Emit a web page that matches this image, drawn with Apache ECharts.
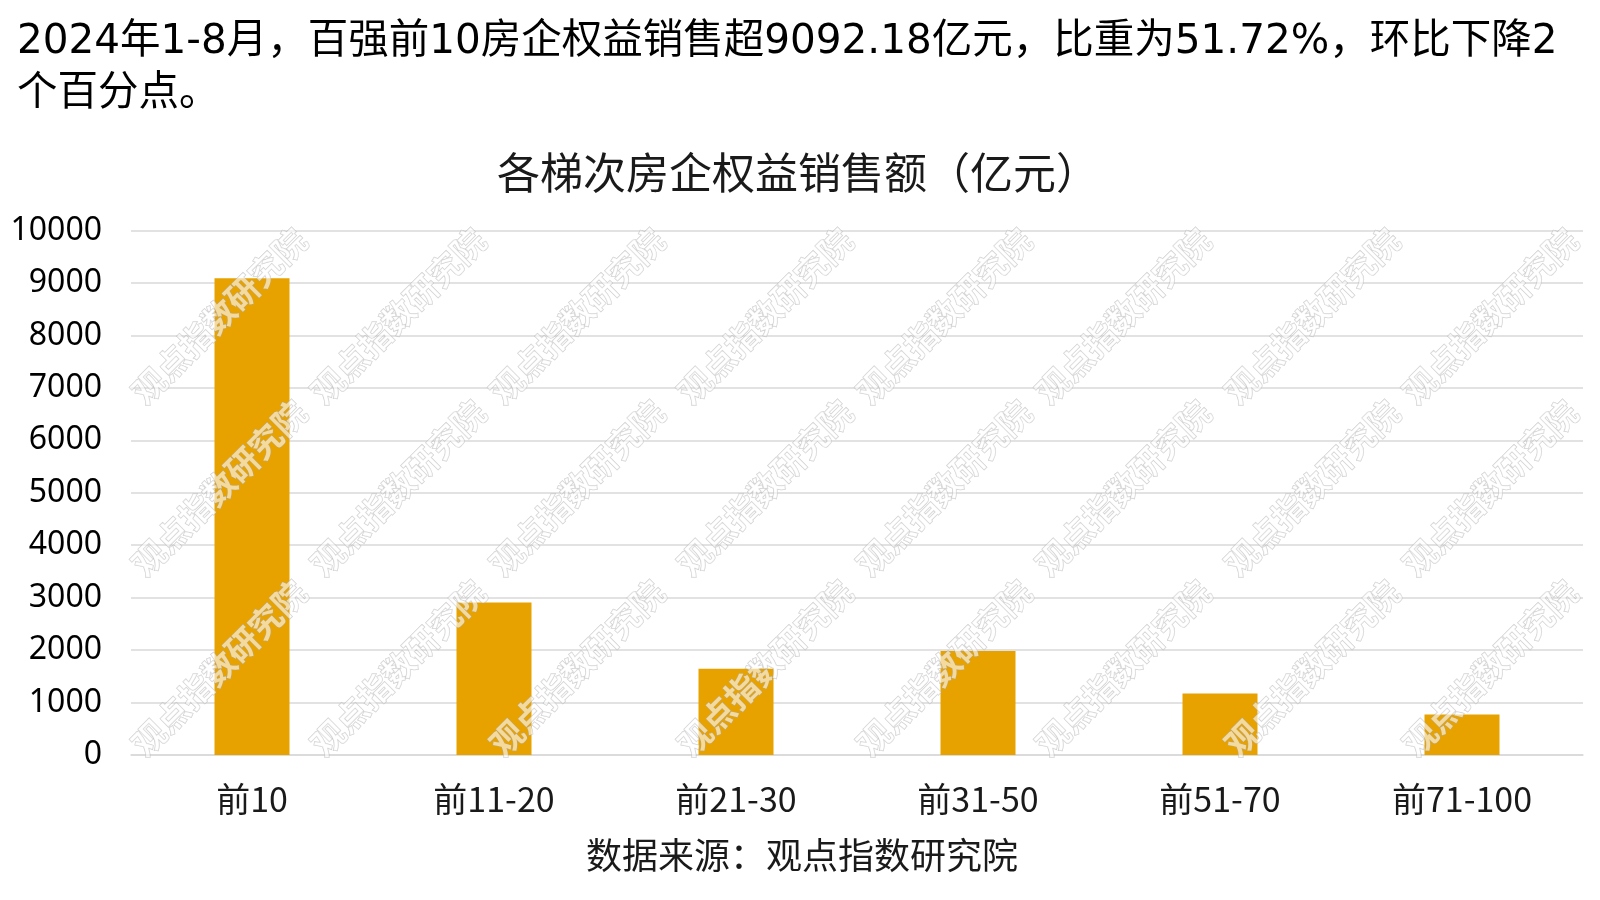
<!DOCTYPE html>
<html>
<head>
<meta charset="utf-8">
<script src="https://cdn.jsdelivr.net/npm/echarts@6/dist/echarts.min.js"></script>
<style>html,body{margin:0;padding:0;background:#fff;}#c{width:1600px;height:900px;}</style>
</head>
<body>
<div id="c"></div>
<script>
const headline = ['2024年1-8月，百强前10房企权益销售超9092.18亿元，比重为51.72%，环比下降2', '个百分点。'];
const chartTitle = '各梯次房企权益销售额（亿元）';
const sourceNote = '数据来源：观点指数研究院';
const categories = ['前10', '前11-20', '前21-30', '前31-50', '前51-70', '前71-100'];
const salesValues = [9092.18, 2906, 1644, 1981, 1172, 771];
const watermarkText = '观点指数研究院';

const FONT = '"Noto Sans CJK SC", "Noto Sans", sans-serif';
const HEAD_FONT = '"DejaVu Sans", "Noto Sans CJK SC", sans-serif';
const chart = echarts.init(document.getElementById('c'));

// watermark layout (decorative)
const wmCols = [219, 398, 577, 765, 944, 1123, 1312, 1490];
const wmRows = [316, 488, 668];
const graphics = [];
wmRows.forEach(y => wmCols.forEach(x => {
  graphics.push({
    type: 'text', x: x, y: y, rotation: Math.PI / 4, z: 100,
    style: {
      text: watermarkText, font: 'bold 33px ' + FONT,
      fill: 'rgba(255,255,255,0.6)', stroke: 'rgba(170,170,170,0.6)', lineWidth: 1,
      shadowColor: 'rgba(0,0,0,0.3)', shadowBlur: 3, shadowOffsetX: 2, shadowOffsetY: 2,
      align: 'center', verticalAlign: 'middle'
    }
  });
}));

chart.setOption({
  backgroundColor: '#fff',
  animation: false,
  title: [
    { text: headline.join('\n'), left: 12, top: 11,
      textStyle: { fontFamily: HEAD_FONT, fontSize: 40.5, fontWeight: 'normal', color: '#000', lineHeight: 52 } },
    { text: chartTitle, left: 793, textAlign: 'center', top: 146,
      textStyle: { fontFamily: FONT, fontSize: 43, fontWeight: 'normal', color: '#1a1a1a' } },
    { text: sourceNote, left: 797, textAlign: 'center', top: 832,
      textStyle: { fontFamily: FONT, fontSize: 36, fontWeight: 'normal', color: '#1a1a1a' } }
  ],
  grid: { left: 131, right: 17, top: 230.6, bottom: 145, containLabel: false },
  xAxis: {
    type: 'category', data: categories,
    axisLine: { lineStyle: { color: '#d9d9d9', width: 1.5 } },
    axisTick: { show: false },
    axisLabel: { margin: 27, fontFamily: FONT, fontSize: 34, color: '#1a1a1a' }
  },
  yAxis: {
    type: 'value', min: 0, max: 10000, interval: 1000,
    axisLine: { show: false }, axisTick: { show: false },
    splitLine: { lineStyle: { color: '#d9d9d9', width: 1.5 } },
    axisLabel: { margin: 29, fontFamily: '"Noto Sans", sans-serif', fontSize: 32, color: '#000',
      padding: [12, 0, 0, 0], formatter: v => String(v) }
  },
  series: [{
    type: 'bar', data: salesValues, barWidth: 75,
    itemStyle: { color: '#E8A200' }
  }],
  graphic: graphics
});
</script>
</body>
</html>
